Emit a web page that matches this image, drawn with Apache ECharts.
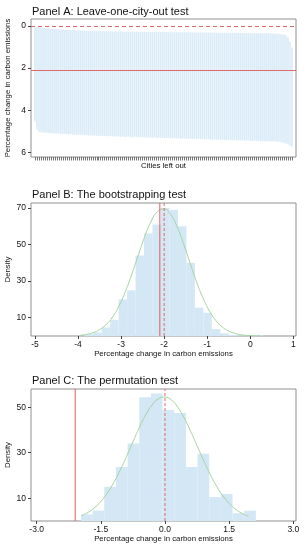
<!DOCTYPE html>
<html>
<head>
<meta charset="utf-8">
<script src="https://cdn.jsdelivr.net/npm/echarts@6/dist/echarts.min.js"></script>
<style>
html,body{margin:0;padding:0;background:#fff;}
#c{width:306px;height:550px;}
</style>
</head>
<body>
<div id="c"></div>
<script>
// ---------- Panel A: leave-one-city-out ----------
const cityUpper = [
0.02,0.04,0.06,0.08,0.09,0.10,0.11,0.12,0.13,0.14,
0.15,0.15,0.16,0.17,0.17,0.18,0.18,0.19,0.19,0.20,
0.20,0.21,0.21,0.21,0.22,0.22,0.22,0.23,0.23,0.23,
0.24,0.24,0.24,0.24,0.25,0.25,0.25,0.25,0.25,0.26,
0.26,0.26,0.26,0.26,0.26,0.27,0.27,0.27,0.27,0.27,
0.27,0.27,0.28,0.28,0.28,0.28,0.28,0.28,0.28,0.28,
0.29,0.29,0.29,0.29,0.29,0.29,0.29,0.29,0.29,0.30,
0.30,0.30,0.30,0.30,0.30,0.30,0.30,0.30,0.30,0.31,
0.31,0.31,0.31,0.31,0.31,0.31,0.31,0.31,0.32,0.32,
0.32,0.32,0.32,0.32,0.32,0.32,0.32,0.33,0.33,0.33,
0.33,0.33,0.33,0.33,0.33,0.33,0.34,0.34,0.34,0.34,
0.34,0.34,0.34,0.35,0.35,0.35,0.35,0.35,0.36,0.36,
0.36,0.37,0.37,0.38,0.39,0.41,0.45,0.55,0.75,1.02
];
const cityLower = [
4.55,4.90,5.02,5.05,5.06,5.07,5.07,5.08,5.09,5.08,
5.10,5.11,5.10,5.12,5.13,5.12,5.14,5.15,5.13,5.16,
5.16,5.17,5.15,5.18,5.17,5.19,5.18,5.20,5.19,5.21,
5.20,5.21,5.22,5.21,5.23,5.22,5.23,5.24,5.22,5.24,
5.25,5.24,5.25,5.26,5.24,5.26,5.27,5.25,5.27,5.28,
5.26,5.28,5.29,5.27,5.29,5.28,5.30,5.29,5.30,5.31,
5.29,5.31,5.30,5.32,5.31,5.32,5.33,5.31,5.33,5.34,
5.32,5.34,5.33,5.35,5.34,5.35,5.36,5.34,5.36,5.37,
5.35,5.37,5.36,5.38,5.37,5.38,5.39,5.37,5.39,5.40,
5.38,5.40,5.39,5.41,5.40,5.41,5.42,5.40,5.42,5.43,
5.41,5.43,5.42,5.44,5.43,5.44,5.45,5.43,5.45,5.46,
5.44,5.46,5.45,5.47,5.46,5.47,5.48,5.46,5.48,5.49,
5.47,5.49,5.50,5.51,5.52,5.55,5.58,5.62,5.68,5.74
];
const cityIdx = cityUpper.map((_, i) => i);
const aTicks = [0, 2, 4, 6];
const aSolidLine = 2.1;
const aDashedLine = 0;

// ---------- Panel B: bootstrapping ----------
const bEdges = [-3.844,-3.648,-3.451,-3.254,-3.058,-2.861,-2.664,-2.467,-2.271,-2.074,-1.877,
                -1.680,-1.484,-1.287,-1.090,-0.893,-0.697,-0.500,-0.303,-0.106,0.090,0.287];
const bHeights = [1.0,2.0,4.7,8.7,20,25,44,56,61,70,69,60,40,15.5,12.7,3.8,1.5,0.6,0.3,0.3,0.4];
const bCurveX = [-3.95,-3.80,-3.65,-3.50,-3.35,-3.20,-3.05,-2.90,-2.75,-2.60,-2.45,-2.30,-2.15,-2.00,
                 -1.85,-1.70,-1.55,-1.40,-1.25,-1.10,-0.95,-0.80,-0.65,-0.50,-0.35,-0.20,-0.05,0.10,0.25];
const bCurveY = [0.42,0.90,1.82,3.46,6.18,10.38,16.38,24.29,33.83,44.26,54.40,62.81,68.12,69.41,
                 66.44,59.74,50.47,40.05,29.85,20.91,13.75,8.50,4.93,2.69,1.38,0.66,0.30,0.13,0.05];
const bXTicks = [-5, -4, -3, -2, -1, 0, 1];
const bYTicks = [10, 30, 50, 70];
const bSolidLine = -2.1;
const bDashedLine = -2.0;

// ---------- Panel C: permutation ----------
const cEdges = [-1.965,-1.692,-1.420,-1.147,-0.874,-0.602,-0.329,-0.057,0.216,0.489,0.761,1.034,1.306,1.579,1.852,2.124];
const cHeights = [2.9,4.6,15,23.7,34,54.4,56,48.8,47.4,23.7,29.6,10.5,11.9,3.4,4.5];
const cCurveX = [-1.95,-1.80,-1.65,-1.50,-1.35,-1.20,-1.05,-0.90,-0.75,-0.60,-0.45,-0.30,-0.15,0.00,
                 0.15,0.30,0.45,0.60,0.75,0.90,1.05,1.20,1.35,1.50,1.65,1.80,1.95];
const cCurveY = [2.36,3.77,5.80,8.59,12.26,16.85,22.27,28.37,34.78,41.04,46.63,51.01,53.73,54.48,
                 53.19,49.99,45.24,39.41,33.06,26.69,20.75,15.53,11.19,7.77,5.19,3.34,2.07];
const cXTicks = [-3, -1.5, 0, 1.5, 3];
const cYTicks = [10, 30, 50];
const cSolidLine = -2.1;
const cDashedLine = 0;

// ---------- styles ----------
const FONT = 'Liberation Sans, Arial, Helvetica, sans-serif';
const RED = '#dc6b6b';
const RED_SOLID = '#e25c5c';
const GREEN = '#a6d4a0';
const BLUE_A = '#dbecf8';
const BLUE_H = '#d4e7f5';
const FRAME = '#8f8f8f';
const TICK = '#444';

function histRender(color) {
  return function (params, api) {
    const p0 = api.coord([api.value(0), 0]);
    const p1 = api.coord([api.value(1), api.value(2)]);
    return {
      type: 'rect',
      shape: { x: p0[0], y: p1[1], width: p1[0] - p0[0], height: p0[1] - p1[1] },
      style: { fill: color }
    };
  };
}
function rangeRender(params, api) {
  const x = api.value(0);
  const p1 = api.coord([x, api.value(1)]);
  const p2 = api.coord([x, api.value(2)]);
  const w = api.size([1, 0])[0] * 0.85;
  return {
    type: 'rect',
    shape: { x: p1[0] - w / 2, y: Math.min(p1[1], p2[1]), width: w, height: Math.abs(p2[1] - p1[1]) },
    style: { fill: BLUE_A }
  };
}
function vLineSeries(xi, yi, value, dashed, yMax) {
  return {
    type: 'line', xAxisIndex: xi, yAxisIndex: yi, silent: true, z: 6,
    data: [[value, 0], [value, yMax]],
    showSymbol: false, symbol: 'none',
    lineStyle: { color: dashed ? RED : RED_SOLID, width: 1, type: dashed ? [3, 2] : 'solid' }
  };
}
const axisNameStyle = { fontSize: 7.8, color: '#111', fontFamily: FONT };
const axisLabelStyle = { fontSize: 8.5, color: '#111', fontFamily: FONT };

function yAxisDef(grid, min, max, ticks, name, inverse, fmt) {
  return {
    gridIndex: grid, type: 'value', min: min, max: max, inverse: !!inverse,
    axisLine: { show: false, onZero: false }, splitLine: { show: false },
    axisTick: { show: true, length: 3, lineStyle: { color: TICK }, customValues: ticks },
    axisLabel: Object.assign({ customValues: ticks, margin: 5, formatter: fmt }, axisLabelStyle),
    name: name, nameLocation: 'middle', nameGap: 19, nameMoveOverlap: false,
    nameTextStyle: axisNameStyle
  };
}
function xAxisDef(grid, min, max, ticks, name, fmt, showLabel) {
  return {
    gridIndex: grid, type: 'value', min: min, max: max,
    axisLine: { show: false, onZero: false }, splitLine: { show: false },
    axisTick: { show: true, length: 3, lineStyle: { color: TICK }, customValues: ticks },
    axisLabel: Object.assign({ show: showLabel, customValues: ticks, margin: 4, formatter: fmt }, axisLabelStyle),
    name: name, nameLocation: 'middle', nameGap: showLabel ? 14 : 5, nameMoveOverlap: false,
    nameTextStyle: axisNameStyle
  };
}
function gridDef(top, height) {
  return {
    left: 31, right: 10, top: top, height: height,
    containLabel: false, outerBoundsMode: 'none',
    show: true, borderColor: FRAME, borderWidth: 1, backgroundColor: 'transparent'
  };
}

const B_YMAX = 72.7, C_YMAX = 58;
const titleStyle = { fontSize: 11, fontWeight: 'normal', color: '#111', fontFamily: FONT };
const option = {
  animation: false,
  backgroundColor: '#fff',
  textStyle: { fontFamily: FONT },
  title: [
    { text: 'Panel A: Leave-one-city-out test', left: 32, top: 6, padding: 0, textStyle: titleStyle },
    { text: 'Panel B: The bootstrapping test', left: 32, top: 189, padding: 0, textStyle: titleStyle },
    { text: 'Panel C: The permutation test', left: 32, top: 375, padding: 0, textStyle: titleStyle }
  ],
  grid: [gridDef(19, 138), gridDef(203, 133), gridDef(389, 132)],
  xAxis: [
    Object.assign(xAxisDef(0, -2, 131, cityIdx, 'Cities left out', null, false),
      { axisTick: { show: true, length: 3.5, lineStyle: { color: '#555', width: 0.8 }, customValues: cityIdx } }),
    xAxisDef(1, -5.093, 1.063, bXTicks, 'Percentage change in carbon emissions', v => String(v), true),
    xAxisDef(2, -3.133, 3.063, cXTicks, 'Percentage change in carbon emissions', v => Number(v).toFixed(1), true)
  ],
  yAxis: [
    yAxisDef(0, -0.33, 6.22, aTicks, 'Percentage change in carbon emissions', true, v => String(v)),
    yAxisDef(1, 0, B_YMAX, bYTicks, 'Density', false, v => String(v)),
    yAxisDef(2, 0, C_YMAX, cYTicks, 'Density', false, v => String(v))
  ],
  series: [
    {
      type: 'custom', xAxisIndex: 0, yAxisIndex: 0, silent: true, z: 2,
      data: cityIdx.map(i => [i, cityUpper[i], cityLower[i]]),
      encode: { x: 0, y: [1, 2] },
      renderItem: rangeRender,
      markLine: {
        symbol: 'none', silent: true, animation: false, label: { show: false },
        data: [
          { yAxis: aSolidLine, lineStyle: { color: RED, width: 1, type: 'solid' } },
          { yAxis: aDashedLine, lineStyle: { color: RED, width: 1, type: [4, 3] } }
        ]
      }
    },
    {
      type: 'custom', xAxisIndex: 1, yAxisIndex: 1, silent: true, z: 2,
      data: bHeights.map((h, i) => [bEdges[i], bEdges[i + 1], h]),
      encode: { x: [0, 1], y: 2 },
      renderItem: histRender(BLUE_H)
    },
    {
      type: 'line', xAxisIndex: 1, yAxisIndex: 1, silent: true, z: 3,
      data: bCurveX.map((x, i) => [x, bCurveY[i]]),
      smooth: true, showSymbol: false, symbol: 'none',
      lineStyle: { color: GREEN, width: 1 }
    },
    vLineSeries(1, 1, bSolidLine, false, B_YMAX),
    vLineSeries(1, 1, bDashedLine, true, B_YMAX),
    {
      type: 'custom', xAxisIndex: 2, yAxisIndex: 2, silent: true, z: 2,
      data: cHeights.map((h, i) => [cEdges[i], cEdges[i + 1], h]),
      encode: { x: [0, 1], y: 2 },
      renderItem: histRender(BLUE_H)
    },
    {
      type: 'line', xAxisIndex: 2, yAxisIndex: 2, silent: true, z: 3,
      data: cCurveX.map((x, i) => [x, cCurveY[i]]),
      smooth: true, showSymbol: false, symbol: 'none',
      lineStyle: { color: GREEN, width: 1 }
    },
    vLineSeries(2, 2, cSolidLine, false, C_YMAX),
    vLineSeries(2, 2, cDashedLine, true, C_YMAX)
  ]
};
const chart = echarts.init(document.getElementById('c'), null, { renderer: 'canvas' });
chart.setOption(option);
</script>
</body>
</html>
